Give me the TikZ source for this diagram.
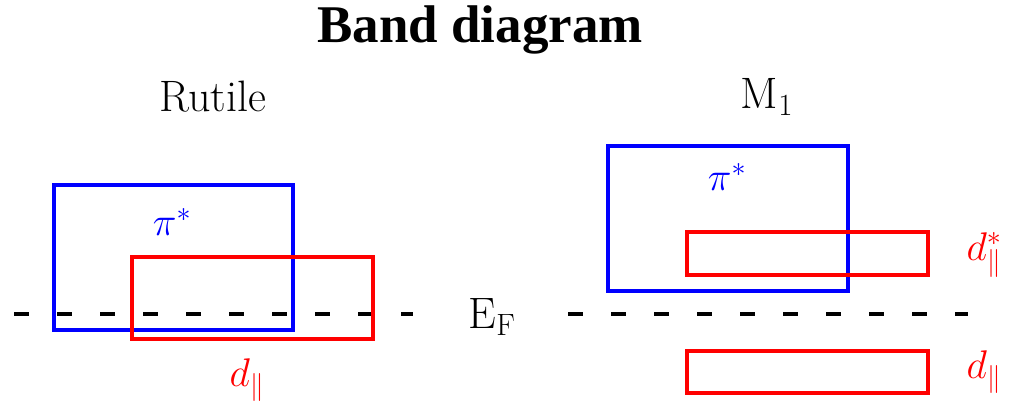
\RequirePackage{fix-cm}
\documentclass[tikz,border=0pt]{standalone}
\usepackage{fontspec}
\newfontfamily\titlefont{Liberation Serif}
\definecolor{bblue}{RGB}{0,0,255}
\definecolor{rred}{RGB}{255,0,0}
\begin{document}
\begin{tikzpicture}[x=1pt,y=-1pt,
  band/.style={line width=3.6pt},
  fermi/.style={line width=3.6pt, dash pattern=on 15pt off 28pt},
  lbl/.style={inner sep=0pt, font=\fontsize{44}{52}\selectfont},
  mlbl/.style={inner sep=0pt, font=\fontsize{40}{48}\selectfont}]
\useasboundingbox (0,0) rectangle (1009,408);
\node[inner sep=0pt, font=\titlefont\bfseries\fontsize{53}{60}\selectfont] (title) at (480,30) {Band diagram};
\node[lbl] (rut) at (213,97) {Rutile};
\node[lbl] (m1) at (767,97) {M$_1$};
% left
\coordinate (l1) at (14,314);
\coordinate (l2) at (413,314);
\draw[fermi] (l1) -- (l2);
\draw[band, draw=bblue] (54,185) rectangle (293,330);
\draw[band, draw=rred] (132,257) rectangle (373,339);
\node[mlbl, text=bblue] (pil) at (172,222) {$\pi^*$};
\node[mlbl, text=rred] (dl) at (247,380) {$d_\parallel$};
% center
\node[inner sep=0pt, font=\fontsize{44}{52}\selectfont] (ef) at (492,317) {E$_\mathrm{F}$};
% right
\coordinate (r1) at (568,314);
\coordinate (r2) at (968,314);
\draw[fermi] (r1) -- (r2);
\draw[band, draw=bblue] (608,146) rectangle (848,291);
\draw[band, draw=rred] (687,232) rectangle (928,275);
\draw[band, draw=rred] (687,351) rectangle (928,393);
\node[mlbl, text=bblue] (pir) at (727,177) {$\pi^*$};
\node[mlbl, text=rred] (dsr) at (984,255) {$d_\parallel^*$};
\node[mlbl, text=rred] (dr) at (984,372) {$d_\parallel$};
\end{tikzpicture}
\end{document}
